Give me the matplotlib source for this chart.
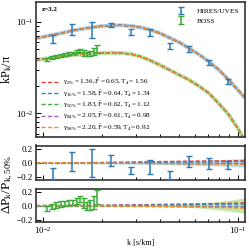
import numpy as np
import matplotlib
matplotlib.use("Agg")
import matplotlib.pyplot as plt

plt.rcParams['font.family'] = ['Liberation Serif', 'DejaVu Serif']
plt.rcParams['mathtext.fontset'] = 'stix'
plt.rcParams['mathtext.default'] = 'regular'

# ---------------- data ----------------
# model curves (50% model) on a k grid
k_model = [0.0092, 0.0100, 0.0112, 0.0126, 0.0141, 0.0158, 0.0178, 0.0200, 0.0224, 0.0251,
           0.0282, 0.0316, 0.0355, 0.0398, 0.0447, 0.0501, 0.0562, 0.0631, 0.0708, 0.0794,
           0.0891, 0.1000, 0.1085]
p_model_hires = [0.0662, 0.0684, 0.0720, 0.0757, 0.0800, 0.0838, 0.0870, 0.0897, 0.0913, 0.0918,
                 0.0903, 0.0870, 0.0817, 0.0751, 0.0667, 0.0595, 0.0512, 0.0440, 0.0368, 0.0301,
                 0.0235, 0.0179, 0.0148]
p_model_boss = [0.0382, 0.0392, 0.0407, 0.0420, 0.0432, 0.0442, 0.0451, 0.0456, 0.0459, 0.0456,
                0.0445, 0.0418, 0.0378, 0.0337, 0.0297, 0.0262, 0.0231, 0.0198, 0.0166, 0.0129,
                0.0098, 0.0068, 0.0050]

# HIRES/UVES data
k_hires = [0.0112, 0.0141, 0.0178, 0.0224, 0.0282, 0.0355, 0.0447, 0.0562, 0.0708, 0.0891]
p_hires = [0.0650, 0.0838, 0.0831, 0.0927, 0.0777, 0.0770, 0.0549, 0.0505, 0.0360, 0.0222]
e_hires = [0.0066, 0.0120, 0.0160, 0.0047, 0.0058, 0.0075, 0.0043, 0.0033, 0.0023, 0.0014]
r_hires = [-0.15, 0.02, 0.00, 0.03, -0.11, -0.06, -0.17, 0.02, -0.01, -0.03]
re_hires = [0.08, 0.14, 0.20, 0.075, 0.05, 0.10, 0.06, 0.075, 0.08, 0.06]

# BOSS data
k_boss = [0.0105, 0.0111, 0.0117, 0.0123, 0.0129, 0.0136, 0.0142, 0.0149, 0.0155, 0.0162,
          0.0168, 0.0175, 0.0182, 0.0189]
p_boss = [0.0385, 0.0404, 0.0420, 0.0430, 0.0440, 0.0450, 0.0456, 0.0470, 0.0485, 0.0460,
          0.0447, 0.0455, 0.0475, 0.0512]
e_boss = [0.0016, 0.0015, 0.0017, 0.0016, 0.0017, 0.0017, 0.0016, 0.0019, 0.0021, 0.0033,
          0.0025, 0.0030, 0.0044, 0.0051]
r_boss = [-0.04, -0.01, 0.01, 0.025, 0.035, 0.045, 0.05, 0.07, 0.095, 0.035, 0.0, 0.01, 0.05, 0.12]
re_boss = [0.04, 0.038, 0.04, 0.038, 0.038, 0.038, 0.036, 0.04, 0.044, 0.071, 0.056, 0.067, 0.093, 0.10]

# residuals of the five models relative to the 50% model
k_res = [0.0092, 0.015, 0.020, 0.030, 0.040, 0.050, 0.060, 0.070, 0.080, 0.090, 0.100, 0.1085]
res_hires = {
    '2':  [0, 0.002, 0.005, 0.012, 0.018, 0.022, 0.025, 0.027, 0.028, 0.030, 0.032, 0.034],
    '16': [0, 0.001, 0.003, 0.007, 0.010, 0.012, 0.014, 0.015, 0.016, 0.017, 0.018, 0.019],
    '50': [0, 0, 0, 0, 0, 0, 0, 0, 0, 0, 0, 0],
    '84': [0, -0.001, -0.002, -0.005, -0.007, -0.009, -0.010, -0.011, -0.012, -0.013, -0.014, -0.015],
    '98': [0, -0.001, -0.003, -0.007, -0.010, -0.013, -0.015, -0.017, -0.019, -0.020, -0.022, -0.023],
}
res_boss = {
    '2':  [0, 0.002, 0.005, 0.012, 0.018, 0.022, 0.025, 0.028, 0.030, 0.033, 0.037, 0.040],
    '16': [0, 0.001, 0.003, 0.007, 0.010, 0.012, 0.014, 0.016, 0.017, 0.019, 0.021, 0.023],
    '50': [0, 0, 0, 0, 0, 0, 0, 0, 0, 0, 0, 0],
    '84': [0, -0.001, -0.002, -0.005, -0.008, -0.010, -0.012, -0.014, -0.016, -0.018, -0.020, -0.022],
    '98': [0, -0.001, -0.003, -0.008, -0.012, -0.016, -0.019, -0.022, -0.026, -0.030, -0.035, -0.040],
}
band_hires = [0.008, 0.008, 0.010, 0.014, 0.022, 0.030, 0.035, 0.040, 0.045, 0.050, 0.055, 0.060]
band_boss = [0.008, 0.008, 0.010, 0.013, 0.018, 0.024, 0.030, 0.045, 0.060, 0.075, 0.095, 0.110]

labels = [
    r'$\gamma_{2\%}=1.36, \bar{F}=0.65, T_4=1.56$',
    r'$\gamma_{16\%}=1.58, \bar{F}=0.64, T_4=1.34$',
    r'$\gamma_{50\%}=1.83, \bar{F}=0.62, T_4=1.12$',
    r'$\gamma_{84\%}=2.05, \bar{F}=0.61, T_4=0.98$',
    r'$\gamma_{98\%}=2.20, \bar{F}=0.59, T_4=0.92$',
]
keys = ['2', '16', '50', '84', '98']
colors = ['#e8413c', '#3f83c8', '#3fae46', '#a05cb8', '#ff8c1a']

c_hires = '#2a7ab9'
c_boss = '#3aaa35'
lc_hires = '#a9cfea'
lc_boss = '#b6e29a'

# ---------------- figure ----------------
W, H = 249, 250
fig = plt.figure(figsize=(W / 100, H / 100), dpi=100)

def axrect(x0, y0, x1, y1):
    return [x0 / W, 1 - y1 / H, (x1 - x0) / W, (y1 - y0) / H]

ax0 = fig.add_axes(axrect(36, 2, 245, 137))
ax1 = fig.add_axes(axrect(36, 145.5, 245, 179.5))
ax2 = fig.add_axes(axrect(36, 188.5, 245, 222))

xlim = (0.00921, 0.1086)
dash = (3, 1.6)

# main panel
ax0.plot(k_model, p_model_hires, color=lc_hires, lw=2.8, solid_capstyle='butt', zorder=1)
ax0.plot(k_model, p_model_boss, color=lc_boss, lw=2.8, solid_capstyle='butt', zorder=1)
handles = []
for i, (lab, c) in enumerate(zip(labels, colors)):
    h, = ax0.plot(k_model, p_model_hires, color=c, lw=1.0, dashes=dash,
                  dash_capstyle='butt', label=lab, zorder=2)
    ax0.plot(k_model, p_model_boss, color=c, lw=1.0, dashes=dash, zorder=2)
    handles.append(h)

eb1 = ax0.errorbar(k_hires, p_hires, yerr=e_hires, fmt='none', ecolor=c_hires,
                   elinewidth=1.1, capsize=2.0, capthick=1.0, zorder=4, label='HIRES/UVES')
eb2 = ax0.errorbar(k_boss, p_boss, yerr=e_boss, fmt='none', ecolor=c_boss,
                   elinewidth=1.1, capsize=2.0, capthick=1.0, zorder=4, label='BOSS')

ax0.set_xscale('log')
ax0.set_yscale('log')
ax0.set_xlim(*xlim)
ax0.set_ylim(0.0055, 0.165)
ax0.set_ylabel(r'$kP_k/\pi$', fontsize=9, labelpad=1)
ax0.text(0.03, 0.965, 'z=3.2', transform=ax0.transAxes, fontsize=5,
         fontweight='bold', va='top', ha='left')

leg1 = ax0.legend([eb1, eb2], ['HIRES/UVES', 'BOSS'], loc='upper right', frameon=False,
                  fontsize=5.3, handlelength=1.6, handletextpad=1.3, labelspacing=0.45,
                  borderaxespad=0.4)
ax0.add_artist(leg1)

# residual panels
for ax, res, band, lc, kd, rd, red, c in [
        (ax1, res_hires, band_hires, lc_hires, k_hires, r_hires, re_hires, c_hires),
        (ax2, res_boss, band_boss, lc_boss, k_boss, r_boss, re_boss, c_boss)]:
    b = np.array(band)
    ax.fill_between(k_res, -b, b, color=lc, lw=0, alpha=0.85, zorder=1)
    for key, col in zip(keys, colors):
        ax.plot(k_res, res[key], color=col, lw=1.0, dashes=dash, zorder=2)
    ax.errorbar(kd, rd, yerr=red, fmt='none', ecolor=c, elinewidth=1.1,
                capsize=2.0, capthick=1.0, zorder=4)
    ax.set_xscale('log')
    ax.set_xlim(*xlim)
    ax.set_ylim(-0.235, 0.245)
    ax.set_yticks([-0.2, 0.0, 0.2])
    ax.set_yticklabels(['\u22120.2', '0.0', '0.2'])

ax2.set_xlabel('k [s/km]', fontsize=5.8, labelpad=2)
fig.text(8 / W, 1 - 184 / H, r'$\Delta P_k/P_{k,50\%}$', rotation=90, fontsize=9.5,
         ha='center', va='center')

for ax in (ax0, ax1, ax2):
    for s in ax.spines.values():
        s.set_linewidth(1.2)
        s.set_color('#333333')
    ax.tick_params(which='both', direction='in', labelsize=6.5, width=0.7, pad=2)
    ax.tick_params(which='major', length=3.5)
    ax.tick_params(which='minor', length=2)
for ax in (ax0, ax1):
    ax.tick_params(labelbottom=False)

# lower-left legend, tuned so rows sit at the reference pixel rows
fs = 5.2
target_pitch = 11.3        # px between rows
target_bottom = H - 127.0  # px (from bottom) of the centre of the last row
ls = 0.5
anchor_y = 0.0
for _ in range(4):
    leg2 = ax0.legend(handles=handles, loc='lower left', frameon=False, fontsize=fs,
                      handlelength=2.3, handletextpad=0.8, labelspacing=ls,
                      borderaxespad=0.0, bbox_to_anchor=(0.01, anchor_y))
    fig.canvas.draw()
    r = fig.canvas.get_renderer()
    lines = leg2.get_lines()
    ys = [ln.get_window_extent(r).y0 * 0.5 + ln.get_window_extent(r).y1 * 0.5 for ln in lines]
    pitch = np.mean(-np.diff(ys))
    ls = ls + (target_pitch - pitch) / (fs * 100 / 72)
    ax_h = ax0.get_window_extent(r).height
    anchor_y = anchor_y + (target_bottom - ys[-1]) / ax_h
leg2 = ax0.legend(handles=handles, loc='lower left', frameon=False, fontsize=fs,
                  handlelength=2.3, handletextpad=0.8, labelspacing=ls,
                  borderaxespad=0.0, bbox_to_anchor=(0.01, anchor_y))

fig.savefig('out.png', dpi=100)
